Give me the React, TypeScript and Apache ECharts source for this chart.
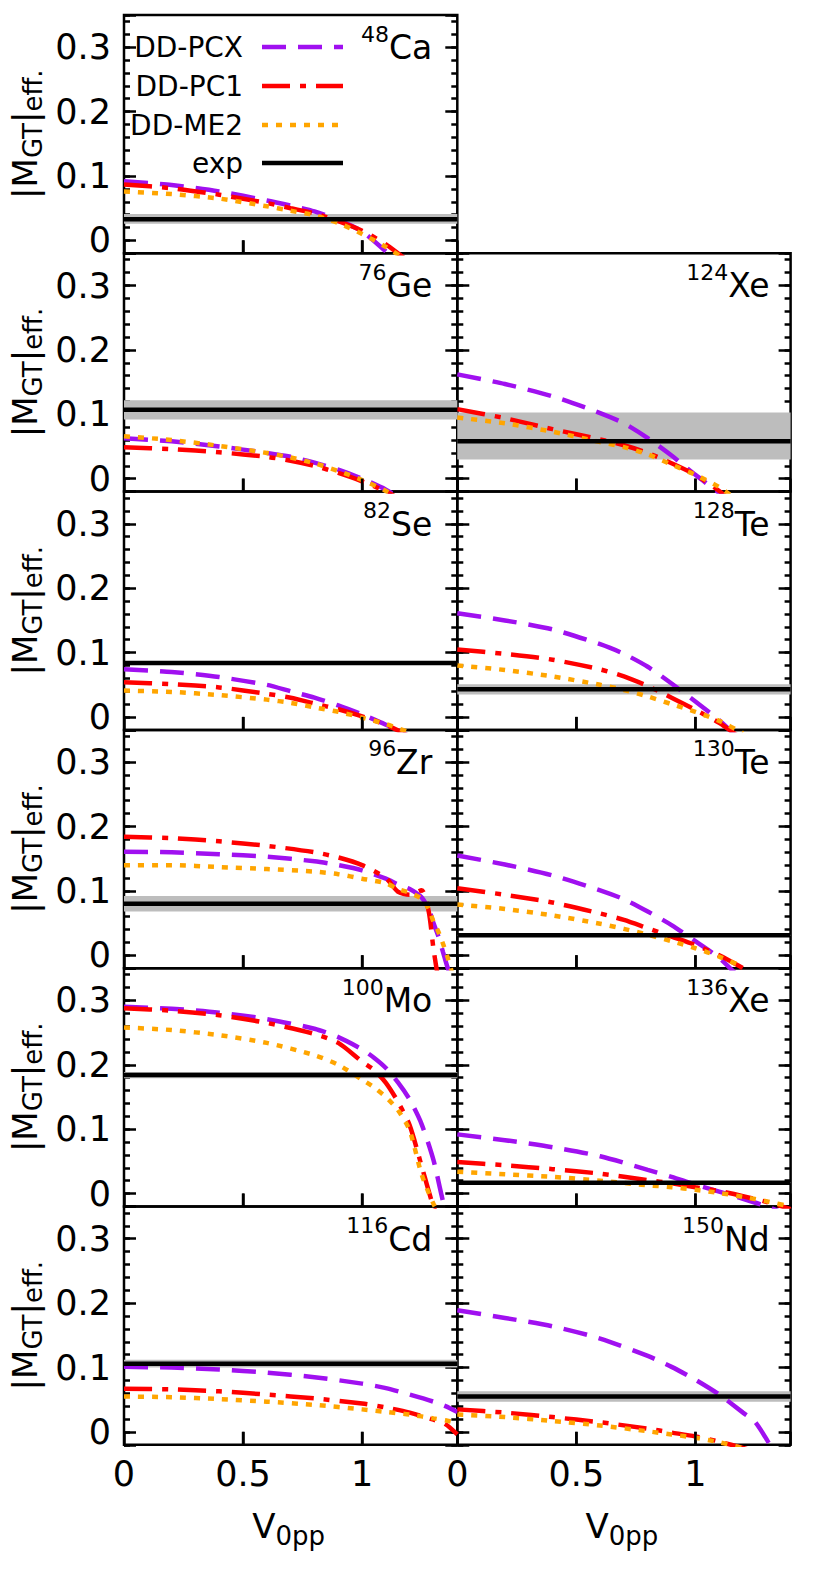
import React, { useEffect, useRef } from "react";
import * as echarts from "echarts";

const FONT = "DejaVu Sans";

// ---------- data ----------
const xCa = [0, 0.2, 0.4, 0.6, 0.7, 0.8, 0.9, 1.0, 1.1, 1.2];
const pcxCa = [0.092, 0.086, 0.076, 0.062, 0.054, 0.045, 0.032, 0.014, -0.017, -0.05];
const pc1Ca = [0.087, 0.081, 0.071, 0.058, 0.05, 0.042, 0.03, 0.015, -0.006, -0.034];
const me2Ca = [0.076, 0.072, 0.065, 0.053, 0.046, 0.039, 0.027, 0.01, -0.01, -0.034];
const expCa = [0.033, 0.026, 0.041];

const xGe = [0, 0.2, 0.4, 0.6, 0.7, 0.8, 0.9, 1.0, 1.1, 1.2];
const pcxGe = [0.063, 0.058, 0.05, 0.04, 0.034, 0.025, 0.014, 0.0, -0.017, -0.04];
const pc1Ge = [0.049, 0.046, 0.041, 0.034, 0.028, 0.02, 0.009, -0.004, -0.02, -0.04];
const me2Ge = [0.066, 0.06, 0.051, 0.04, 0.033, 0.024, 0.012, -0.002, -0.019, -0.04];
const expGe = [0.107, 0.092, 0.122];

const xXe124 = [0, 0.2, 0.4, 0.6, 0.7, 0.8, 0.9, 1.0, 1.1, 1.2];
const pcxXe124 = [0.162, 0.147, 0.128, 0.102, 0.086, 0.063, 0.036, 0.006, -0.022, -0.05];
const pc1Xe124 = [0.108, 0.094, 0.077, 0.061, 0.052, 0.04, 0.024, 0.006, -0.019, -0.05];
const me2Xe124 = [0.095, 0.086, 0.073, 0.057, 0.049, 0.038, 0.022, 0.006, -0.013, -0.04];
const expXe124 = [0.058, 0.03, 0.103];

const xSe = [0, 0.2, 0.4, 0.6, 0.7, 0.8, 0.9, 1.0, 1.1, 1.2];
const pcxSe = [0.074, 0.07, 0.062, 0.05, 0.04, 0.03, 0.018, 0.004, -0.012, -0.03];
const pc1Se = [0.054, 0.051, 0.046, 0.036, 0.03, 0.021, 0.012, 0.001, -0.012, -0.03];
const me2Se = [0.041, 0.039, 0.034, 0.027, 0.022, 0.015, 0.008, -0.001, -0.011, -0.024];
const expSe = [0.084, 0.083, 0.085];

const xTe128 = [0, 0.2, 0.4, 0.6, 0.7, 0.8, 0.9, 1.0, 1.1, 1.2];
const pcxTe128 = [0.161, 0.15, 0.136, 0.113, 0.098, 0.078, 0.052, 0.024, -0.005, -0.04];
const pc1Te128 = [0.105, 0.098, 0.089, 0.074, 0.063, 0.048, 0.03, 0.011, -0.009, -0.035];
const me2Te128 = [0.08, 0.073, 0.063, 0.05, 0.042, 0.032, 0.02, 0.008, -0.006, -0.025];
const expTe128 = [0.043, 0.035, 0.051];

const xZr = [0, 0.2, 0.4, 0.6, 0.8, 0.9, 1.0, 1.1, 1.15, 1.2, 1.25, 1.28, 1.3, 1.32, 1.34, 1.36, 1.38];
const pcxZr = [0.161, 0.16, 0.157, 0.153, 0.146, 0.14, 0.132, 0.119, 0.11, 0.103, 0.09, 0.072, 0.05, 0.03, 0.005, -0.02, -0.04];
const pc1Zr = [0.184, 0.182, 0.177, 0.17, 0.16, 0.152, 0.14, 0.12, 0.099, 0.094, 0.101, 0.068, 0.01, -0.035, -0.06, -0.08, -0.1];
const me2Zr = [0.14, 0.14, 0.137, 0.134, 0.13, 0.126, 0.119, 0.112, 0.103, 0.097, 0.088, 0.072, 0.052, 0.037, 0.018, -0.004, -0.03];
const expZr = [0.08, 0.068, 0.092];

const xTe130 = [0, 0.2, 0.4, 0.6, 0.7, 0.8, 0.9, 1.0, 1.1, 1.2];
const pcxTe130 = [0.155, 0.141, 0.124, 0.101, 0.087, 0.068, 0.047, 0.022, -0.004, -0.04];
const pc1Te130 = [0.104, 0.094, 0.082, 0.065, 0.055, 0.042, 0.029, 0.016, 0.0, -0.02];
const me2Te130 = [0.079, 0.072, 0.062, 0.049, 0.041, 0.032, 0.022, 0.011, -0.002, -0.018];
const expTe130 = [0.031, 0.03, 0.032];

const xMo = [0, 0.2, 0.4, 0.6, 0.8, 0.9, 1.0, 1.05, 1.1, 1.15, 1.2, 1.25, 1.3, 1.35, 1.4];
const pcxMo = [0.29, 0.287, 0.281, 0.271, 0.256, 0.243, 0.224, 0.211, 0.195, 0.173, 0.146, 0.108, 0.052, -0.025, -0.06];
const pc1Mo = [0.288, 0.284, 0.277, 0.265, 0.248, 0.234, 0.205, 0.192, 0.172, 0.143, 0.106, 0.043, -0.02, -0.06, -0.1];
const me2Mo = [0.258, 0.254, 0.246, 0.234, 0.215, 0.2, 0.177, 0.165, 0.15, 0.13, 0.098, 0.03, -0.016, -0.05, -0.09];
const expMo = [0.184, 0.179, 0.189];

const xXe136 = [0, 0.2, 0.4, 0.6, 0.8, 0.9, 1.0, 1.1, 1.2, 1.3, 1.4];
const pcxXe136 = [0.092, 0.083, 0.072, 0.058, 0.037, 0.026, 0.014, 0.003, -0.008, -0.02, -0.035];
const pc1Xe136 = [0.049, 0.044, 0.038, 0.031, 0.021, 0.016, 0.01, 0.004, -0.004, -0.013, -0.024];
const me2Xe136 = [0.034, 0.03, 0.026, 0.02, 0.013, 0.01, 0.006, 0.001, -0.005, -0.012, -0.02];
const expXe136 = [0.017, 0.016, 0.018];

const xCd = [0, 0.2, 0.4, 0.6, 0.8, 1.0, 1.1, 1.2, 1.3, 1.35, 1.4];
const pcxCd = [0.101, 0.1, 0.097, 0.092, 0.085, 0.075, 0.068, 0.058, 0.047, 0.04, 0.031];
const pc1Cd = [0.067, 0.066, 0.063, 0.058, 0.052, 0.044, 0.038, 0.03, 0.019, 0.012, -0.004];
const me2Cd = [0.055, 0.054, 0.051, 0.047, 0.042, 0.035, 0.031, 0.027, 0.021, 0.018, 0.014];
const expCd = [0.106, 0.1, 0.112];

const xNd = [0, 0.2, 0.4, 0.6, 0.8, 0.9, 1.0, 1.1, 1.2, 1.25, 1.3, 1.35];
const pcxNd = [0.189, 0.177, 0.164, 0.145, 0.118, 0.101, 0.081, 0.058, 0.03, 0.016, -0.012, -0.045];
const pc1Nd = [0.035, 0.03, 0.023, 0.015, 0.005, -0.001, -0.007, -0.015, -0.025, -0.03, -0.035, -0.04];
const me2Nd = [0.027, 0.023, 0.017, 0.01, 0.001, -0.004, -0.009, -0.016, -0.025, -0.03, -0.035, -0.04];
const expNd = [0.055, 0.047, 0.063];

const legendNames = ["DD-PCX", "DD-PC1", "DD-ME2", "exp"];
const xTickValues = [0, 0.5, 1];
const yTickValues = [0, 0.1, 0.2, 0.3];
const X_MIN = 0;
const X_MAX = 1.4;
const Y_MIN = -0.02;
const Y_MAX = 0.35;

const panels = [
  { mass: "48", el: "Ca", col: 0, row: 0, x: xCa, pcx: pcxCa, pc1: pc1Ca, me2: me2Ca, exp: expCa },
  { mass: "76", el: "Ge", col: 0, row: 1, x: xGe, pcx: pcxGe, pc1: pc1Ge, me2: me2Ge, exp: expGe },
  { mass: "82", el: "Se", col: 0, row: 2, x: xSe, pcx: pcxSe, pc1: pc1Se, me2: me2Se, exp: expSe },
  { mass: "96", el: "Zr", col: 0, row: 3, x: xZr, pcx: pcxZr, pc1: pc1Zr, me2: me2Zr, exp: expZr },
  { mass: "100", el: "Mo", col: 0, row: 4, x: xMo, pcx: pcxMo, pc1: pc1Mo, me2: me2Mo, exp: expMo },
  { mass: "116", el: "Cd", col: 0, row: 5, x: xCd, pcx: pcxCd, pc1: pc1Cd, me2: me2Cd, exp: expCd },
  { mass: "124", el: "Xe", col: 1, row: 1, x: xXe124, pcx: pcxXe124, pc1: pc1Xe124, me2: me2Xe124, exp: expXe124 },
  { mass: "128", el: "Te", col: 1, row: 2, x: xTe128, pcx: pcxTe128, pc1: pc1Te128, me2: me2Te128, exp: expTe128 },
  { mass: "130", el: "Te", col: 1, row: 3, x: xTe130, pcx: pcxTe130, pc1: pc1Te130, me2: me2Te130, exp: expTe130 },
  { mass: "136", el: "Xe", col: 1, row: 4, x: xXe136, pcx: pcxXe136, pc1: pc1Xe136, me2: me2Xe136, exp: expXe136 },
  { mass: "150", el: "Nd", col: 1, row: 5, x: xNd, pcx: pcxNd, pc1: pc1Nd, me2: me2Nd, exp: expNd },
];

// ---------- styles / layout ----------
const COLORS = { pcx: "#a010f0", pc1: "#ff0000", me2: "#ffa500", exp: "#000000", band: "#bdbdbd" };
const DASH = { pcx: [24, 12], pc1: [28, 10, 6, 10], me2: [6, 8] };
const LW = 4.5;
const GRID_LEFT = [124, 457.3];
const GRID_W = 333.3;
const GRID_TOP = 15;
const GRID_H = 238.3;
const AX = 2.5;
const TICK_FS = 35;
const X_TICK_LEN = 13;

function near(v: number, list: number[]) {
  return list.some((t) => Math.abs(t - v) < 1e-6);
}

function buildOption() {
  const grid: any[] = [];
  const xAxis: any[] = [];
  const yAxis: any[] = [];
  const series: any[] = [];
  const graphic: any[] = [];

  panels.forEach((p, i) => {
    const left = GRID_LEFT[p.col];
    const top = GRID_TOP + p.row * GRID_H;
    const bottomRow = p.row === 5;
    const yi = i * 4;
    grid.push({
      left,
      top,
      width: GRID_W,
      height: GRID_H,
      show: true,
      borderColor: "#000",
      borderWidth: AX,
      backgroundColor: "rgba(0,0,0,0)",
      containLabel: false,
    });
    xAxis.push({
      gridIndex: i,
      type: "value",
      position: "bottom",
      min: X_MIN,
      max: X_MAX,
      interval: 0.5,
      axisLine: { show: false, onZero: false },
      axisTick: { show: true, inside: true, length: X_TICK_LEN, lineStyle: { color: "#000", width: AX } },
      splitLine: { show: false },
      axisLabel: {
        show: bottomRow,
        margin: 12,
        fontSize: TICK_FS,
        fontFamily: FONT,
        color: "#000",
        formatter: (v: number) => (near(v, xTickValues) ? String(Math.round(v * 2) / 2) : ""),
      },
    });
    const base = {
      gridIndex: i,
      type: "value",
      min: Y_MIN,
      max: Y_MAX,
      axisLine: { show: false, onZero: false },
      splitLine: { show: false },
    };
    // major left (labels)
    yAxis.push({
      ...base,
      position: "left",
      axisTick: { show: true, inside: true, length: 12, lineStyle: { color: "#000", width: AX } },
      axisLabel: {
        show: p.col === 0,
        margin: 13,
        fontSize: TICK_FS,
        fontFamily: FONT,
        color: "#000",
        formatter: (v: number) => (near(v, yTickValues) ? (Math.abs(v) < 1e-9 ? "0" : String(Math.round(v * 10) / 10)) : ""),
      },
    });
    // minor left
    yAxis.push({
      ...base,
      position: "left",
      interval: 0.02,
      axisTick: { show: true, inside: true, length: 6, lineStyle: { color: "#000", width: AX } },
      axisLabel: { show: false },
    });
    // major right
    yAxis.push({
      ...base,
      position: "right",
      axisTick: { show: true, inside: true, length: 12, lineStyle: { color: "#000", width: AX } },
      axisLabel: { show: false },
    });
    // minor right
    yAxis.push({
      ...base,
      position: "right",
      interval: 0.02,
      axisTick: { show: true, inside: true, length: 6, lineStyle: { color: "#000", width: AX } },
      axisLabel: { show: false },
    });

    // experimental band (under everything)
    series.push({
      type: "line",
      name: "band",
      xAxisIndex: i,
      yAxisIndex: yi,
      data: [
        [X_MIN, p.exp[0]],
        [X_MAX, p.exp[0]],
      ],
      symbol: "none",
      lineStyle: { width: 0, opacity: 0 },
      silent: true,
      z: 1,
      markArea: {
        silent: true,
        itemStyle: { color: COLORS.band, opacity: 1 },
        data: [[{ xAxis: X_MIN, yAxis: p.exp[1] }, { xAxis: X_MAX, yAxis: p.exp[2] }]],
      },
    });
    const curves: [string, number[], keyof typeof DASH][] = [
      ["DD-PCX", p.pcx, "pcx"],
      ["DD-PC1", p.pc1, "pc1"],
      ["DD-ME2", p.me2, "me2"],
    ];
    curves.forEach(([name, ys, key]) => {
      series.push({
        type: "line",
        name,
        xAxisIndex: i,
        yAxisIndex: yi,
        data: p.x.map((xv, j) => [xv, ys[j]]),
        symbol: "none",
        smooth: 0.25,
        clip: true,
        lineStyle: { color: (COLORS as any)[key], width: LW, type: DASH[key], cap: "butt" },
        z: 3,
      });
    });
    series.push({
      type: "line",
      name: "exp",
      xAxisIndex: i,
      yAxisIndex: yi,
      data: [
        [X_MIN, p.exp[0]],
        [X_MAX, p.exp[0]],
      ],
      symbol: "none",
      lineStyle: { color: COLORS.exp, width: 4.5 },
      z: 5,
    });
    // x-axis major ticks on the bottom edge (small filled bars), positioned through the scales
    series.push({
      type: "custom",
      name: "xticks",
      xAxisIndex: i,
      yAxisIndex: yi,
      silent: true,
      clip: false,
      z: 10,
      encode: { x: 0, y: 1 },
      data: xTickValues.filter((v) => v > X_MIN && v < X_MAX).map((v) => [v, Y_MIN]),
      renderItem: (_params: any, api: any) => {
        const pt = api.coord([api.value(0), api.value(1)]);
        return {
          type: "rect",
          shape: { x: pt[0] - AX / 2, y: pt[1] - X_TICK_LEN, width: AX, height: X_TICK_LEN },
          style: { fill: "#000", stroke: null },
        };
      },
    });

    // nucleus label (superscript mass number)
    graphic.push({
      type: "text",
      x: p.col === 0 ? left + GRID_W - 25 : left + GRID_W - 21,
      y: top + 8,
      silent: true,
      style: {
        text: `{s|${p.mass}}{m|${p.el}}`,
        align: "right",
        verticalAlign: "top",
        fill: "#000",
        rich: {
          s: { fontSize: 22, fontFamily: FONT, fill: "#000", lineHeight: 25, verticalAlign: "top" },
          m: { fontSize: 33, fontFamily: FONT, fill: "#000", lineHeight: 38, verticalAlign: "top", padding: [8, 0, 0, 0] },
        },
      },
    });

    // y title (rotated, with subscripts)
    if (p.col === 0) {
      graphic.push({
        type: "text",
        x: 8,
        y: top + GRID_H / 2,
        rotation: Math.PI / 2,
        silent: true,
        style: {
          text: "{a||M}{b|GT}{a||}{b|eff.}",
          align: "center",
          verticalAlign: "top",
          fill: "#000",
          rich: {
            a: { fontSize: 34, fontFamily: FONT, fill: "#000", lineHeight: 39, verticalAlign: "top" },
            b: { fontSize: 26, fontFamily: FONT, fill: "#000", lineHeight: 30, verticalAlign: "top", padding: [12, 0, 0, 0] },
          },
        },
      });
    }
    // x title
    if (bottomRow) {
      graphic.push({
        type: "text",
        x: left + GRID_W / 2 - 2,
        y: 1509,
        silent: true,
        style: {
          text: "{a|V}{b|0pp}",
          align: "center",
          verticalAlign: "top",
          fill: "#000",
          rich: {
            a: { fontSize: 34, fontFamily: FONT, fill: "#000", lineHeight: 39, verticalAlign: "top" },
            b: { fontSize: 26, fontFamily: FONT, fill: "#000", lineHeight: 30, verticalAlign: "top", padding: [14, 0, 0, 0] },
          },
        },
      });
    }
  });

  // legend (inside the 48Ca panel)
  const legendY = [47, 86, 125, 163];
  const legendStyle = [
    { stroke: COLORS.pcx, lineDash: DASH.pcx },
    { stroke: COLORS.pc1, lineDash: DASH.pc1 },
    { stroke: COLORS.me2, lineDash: DASH.me2 },
    { stroke: COLORS.exp, lineDash: null },
  ];
  legendNames.forEach((name, k) => {
    graphic.push({
      type: "text",
      x: 243,
      y: legendY[k],
      silent: true,
      style: { text: name, fontSize: 28, fontFamily: FONT, fill: "#000", align: "right", verticalAlign: "middle" },
    });
    graphic.push({
      type: "line",
      silent: true,
      shape: { x1: 262, y1: legendY[k], x2: 343, y2: legendY[k] },
      style: { stroke: legendStyle[k].stroke, lineWidth: LW, lineDash: legendStyle[k].lineDash, lineCap: "butt" },
    });
  });

  return {
    animation: false,
    backgroundColor: "#ffffff",
    textStyle: { fontFamily: FONT },
    grid,
    xAxis,
    yAxis,
    series,
    graphic,
  };
}

export default function App() {
  const ref = useRef<HTMLDivElement>(null);
  useEffect(() => {
    document.body.style.margin = "0";
    const chart = echarts.init(ref.current as HTMLDivElement, null, { renderer: "svg" });
    chart.setOption(buildOption() as any);
    return () => chart.dispose();
  }, []);
  return <div ref={ref} style={{ width: 830, height: 1587 }} />;
}
